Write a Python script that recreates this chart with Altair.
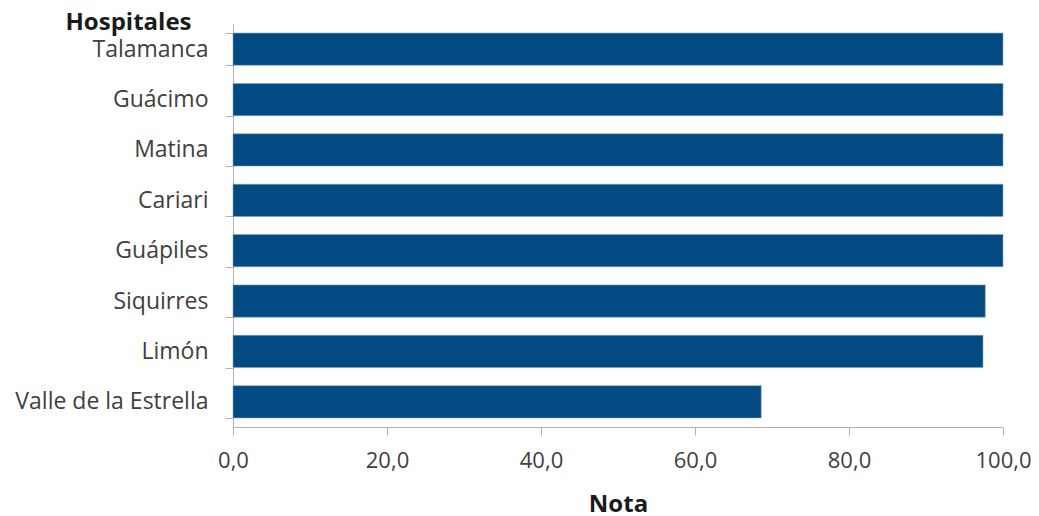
import altair as alt
import pandas as pd

hospitales = ["Talamanca", "Guácimo", "Matina", "Cariari", "Guápiles", "Siquirres", "Limón", "Valle de la Estrella"]
nota = [100.0, 100.0, 100.0, 100.0, 100.0, 97.7, 97.4, 68.6]

df = pd.DataFrame({"Hospital": hospitales, "Nota": nota})

FONT = "Open Sans"

chart = alt.Chart(df).mark_bar(color="#024a82", stroke="#7fa3c4", strokeWidth=0.6).encode(
    x=alt.X("Nota:Q", title="Nota",
            scale=alt.Scale(domain=[0, 100], nice=False),
            axis=alt.Axis(values=[0, 20, 40, 60, 80, 100],
                          labelExpr="replace(format(datum.value,'.1f'),'.',',')",
                          labelFlush=False,
                          grid=False, tickSize=8, labelPadding=15, titlePadding=21,
                          labelFontSize=22, titleFontSize=24, titleFontWeight="bold",
                          labelColor="#404040", titleColor="#1a1a1a",
                          domainColor="#b3b3b3", tickColor="#b3b3b3",
                          labelFont=FONT, titleFont=FONT)),
    y=alt.Y("Hospital:N", sort=None, title="Hospitales",
            scale=alt.Scale(paddingInner=0.36, paddingOuter=0.18),
            axis=alt.Axis(tickBand="extent", tickSize=8, labelPadding=17, labelLimit=0,
                          labelFontSize=23, titleFontSize=24, titleFontWeight="bold",
                          labelColor="#404040", titleColor="#1a1a1a",
                          domainColor="#b3b3b3", tickColor="#b3b3b3",
                          titleAngle=0, titleAlign="right", titleBaseline="alphabetic",
                          titleX=-42, titleY=5,
                          labelFont=FONT, titleFont=FONT)),
).properties(
    width=770, height=403,
    autosize=alt.AutoSizeParams(type="none"),
    padding={"left": 225, "top": 16, "right": 28, "bottom": 89},
    background="white",
).configure_view(stroke=None)

chart.save("out.html", embed_options={"renderer": "svg", "actions": False})
